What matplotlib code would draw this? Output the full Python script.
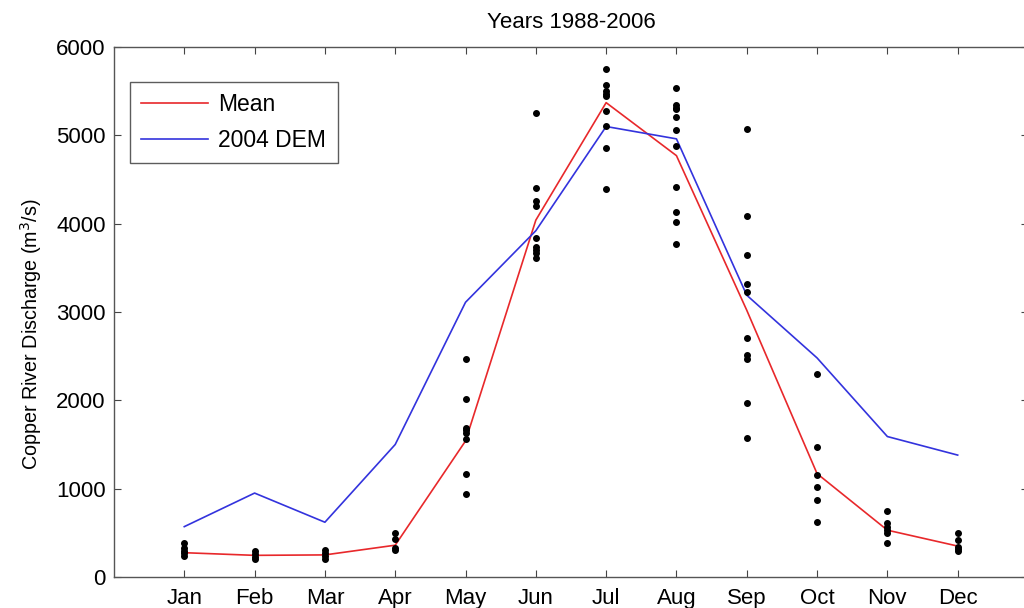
import matplotlib.pyplot as plt
import numpy as np

plt.rcParams['font.family'] = ['Liberation Sans', 'DejaVu Sans']

months = ['Jan', 'Feb', 'Mar', 'Apr', 'May', 'Jun', 'Jul', 'Aug', 'Sep', 'Oct', 'Nov', 'Dec']

# monthly mean discharge and the 2004 DEM model run (m^3/s)
mean_q = [275, 245, 250, 360, 1540, 4040, 5370, 4770, 3020, 1170, 530, 350]
dem_q = [570, 950, 620, 1500, 3110, 3920, 5100, 4960, 3190, 2480, 1590, 1380]

# individual years, one list per month
yearly = [
    [385, 330, 295, 270, 240],
    [290, 260, 230, 200],
    [300, 270, 240, 205],
    [495, 430, 330, 305],
    [2465, 2015, 1690, 1665, 1635, 1560, 1170, 935],
    [5250, 4400, 4255, 4195, 3835, 3740, 3700, 3665, 3610],
    [5750, 5570, 5505, 5470, 5440, 5270, 5105, 4855, 4390],
    [5540, 5345, 5315, 5295, 5205, 5055, 4880, 4410, 4135, 4020, 3775],
    [5070, 4085, 3645, 3320, 3225, 2705, 2515, 2465, 1975, 1575],
    [2295, 1470, 1150, 1020, 870, 620],
    [745, 610, 565, 530, 495, 390],
    [500, 415, 345, 315, 295],
]

x = np.arange(1, 13)

fig = plt.figure(figsize=(10.24, 6.08), dpi=100)
ax = fig.add_axes([0.1113, 0.051, 0.8926, 0.8717])

for i, vals in enumerate(yearly):
    ax.plot([x[i]] * len(vals), vals, 'o', color='black', markersize=4, zorder=3)

ax.plot(x, mean_q, color='#e8282b', lw=1.2, label='Mean', zorder=2)
ax.plot(x, dem_q, color='#3333dd', lw=1.2, label='2004 DEM', zorder=2)

ax.set_xlim(0, 13)
ax.set_ylim(0, 6000)
ax.set_xticks(x)
ax.set_xticklabels(months)
ax.set_yticks(np.arange(0, 6001, 1000))
ax.tick_params(direction='in', length=5, width=0.8, top=True, right=True,
               labelsize=16, color='#444444')
ax.tick_params(axis='x', pad=8)
ax.tick_params(axis='y', pad=6)
for s in ax.spines.values():
    s.set_color('#555555')
    s.set_linewidth(1.0)

ax.set_ylabel('Copper River Discharge (m$^3$/s)', fontsize=14.2)
ax.yaxis.set_label_coords(-0.0766, 0.458)
ax.set_title('Years 1988-2006', fontsize=16, pad=14)

leg = ax.legend(loc='upper left', bbox_to_anchor=(0.0175, 0.934), fontsize=16.5,
                fancybox=False, edgecolor='#333333', handlelength=2.9,
                borderpad=0.5, labelspacing=0.55, handletextpad=0.45,
                borderaxespad=0)
leg.get_frame().set_linewidth(1.0)

fig.savefig('out.png', dpi=100)
